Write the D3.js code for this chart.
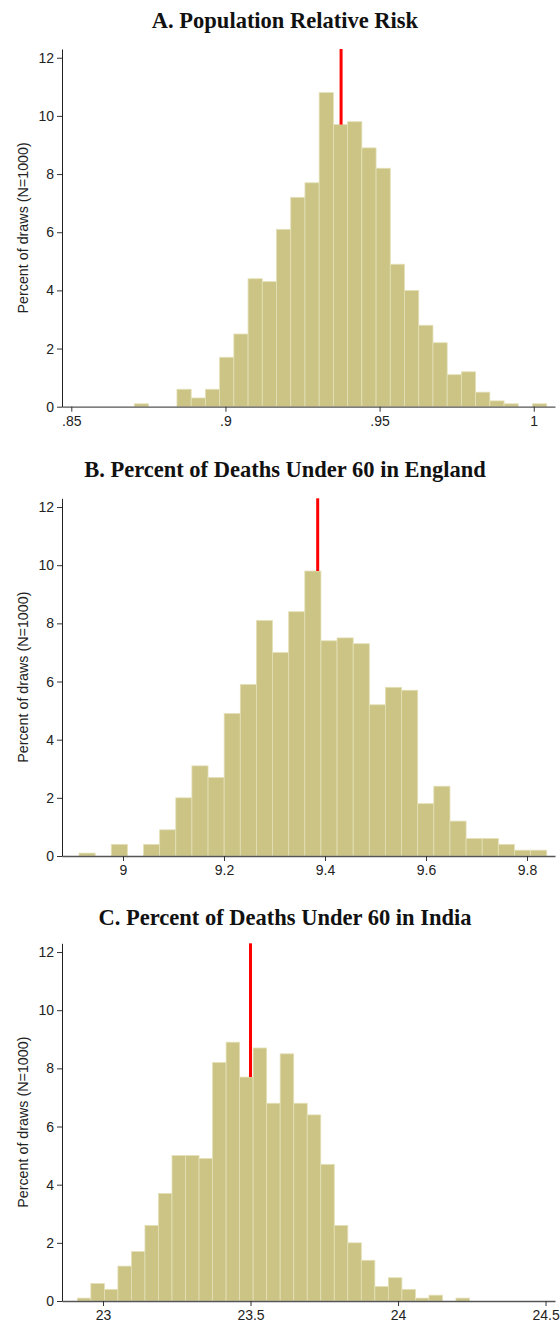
<!DOCTYPE html>
<html>
<head>
<meta charset="utf-8">
<script src="https://cdn.jsdelivr.net/npm/d3@7"></script>
<style>
  body { margin: 0; background: #fff; }
  svg { display: block; }
  .tick text { font-family: "Liberation Sans", Arial, sans-serif; font-size: 14px; fill: #222; }
  .title { font-family: "Liberation Serif", "Times New Roman", serif; font-weight: bold; font-size: 22.5px; fill: #111; }
  .ylab { font-family: "Liberation Sans", Arial, sans-serif; font-size: 14.3px; fill: #222; }
</style>
</head>
<body>
<script>
// titles
var titles = [
    "A. Population Relative Risk",
    "B. Percent of Deaths Under 60 in England",
    "C. Percent of Deaths Under 60 in India"
];

// percent of draws per bin (29 equal bins each)
var percentA = [0.1, 0, 0, 0.6, 0.3, 0.6, 1.7, 2.5, 4.4, 4.3, 6.1, 7.2, 7.7, 10.8, 9.7,
                9.8, 8.9, 8.2, 4.9, 4.0, 2.8, 2.2, 1.1, 1.2, 0.5, 0.2, 0.1, 0, 0.1];
var percentB = [0.1, 0, 0.4, 0, 0.4, 0.9, 2.0, 3.1, 2.7, 4.9, 5.9, 8.1, 7.0, 8.4, 9.8,
                7.4, 7.5, 7.3, 5.2, 5.8, 5.7, 1.8, 2.4, 1.2, 0.6, 0.6, 0.4, 0.2, 0.2];
var percentC = [0.1, 0.6, 0.4, 1.2, 1.7, 2.6, 3.7, 5.0, 5.0, 4.9, 8.2, 8.9, 7.7, 8.7, 6.8,
                8.5, 6.8, 6.4, 4.7, 2.6, 2.0, 1.4, 0.5, 0.8, 0.4, 0.1, 0.2, 0, 0.1];

// bin start and width
var binStart = [0.87043, 8.9129, 22.913];
var binWidth = [0.004613, 0.031935, 0.045835];

// point estimate (red line)
var markers = [0.9375, 9.3855, 23.5];

// axes
var xDomains = [[0.84698, 1.00689], [8.8792, 9.8554], [22.861, 24.532]];
var xTicks   = [[0.85, 0.9, 0.95, 1], [9, 9.2, 9.4, 9.6, 9.8], [23, 23.5, 24, 24.5]];
var xFormats = [d => d3.format(".2~f")(d).replace(/^0\./, "."), d3.format(".1~f"), d3.format(".1~f")];
var yTicks   = [0, 2, 4, 6, 8, 10, 12];
var yMax     = 12.3;
var yLabel   = "Percent of draws (N=1000)";

// layout
var width   = 560;
var height  = 1325;
var left    = 62;
var right   = 555;
var zeroY   = [406.7, 856, 1301];
var titleY  = [28, 477, 925];
var unitPx  = 29.08;

var svg = d3.select("body").append("svg")
    .attr("width", width)
    .attr("height", height);

var series = [percentA, percentB, percentC];

series.forEach((vals, p) => {
    var g = svg.append("g");

    var x = d3.scaleLinear().domain(xDomains[p]).range([left, right]);
    var y = d3.scaleLinear().domain([0, yMax]).range([zeroY[p], zeroY[p] - yMax * unitPx]);

    var bins = vals.map((v, i) => ({
        x0: binStart[p] + i * binWidth[p],
        x1: binStart[p] + (i + 1) * binWidth[p],
        v: v
    }));

    g.append("g")
     .selectAll("rect")
     .data(bins.filter(d => d.v > 0))
     .enter().append("rect")
     .attr("x", d => x(d.x0))
     .attr("width", d => x(d.x1) - x(d.x0))
     .attr("y", d => y(d.v))
     .attr("height", d => y(0) - y(d.v))
     .attr("fill", "#cbc484")
     .attr("stroke", "#e4e0b8")
     .attr("stroke-width", 0.8);

    // red line from top of plot down to the bar it sits in
    var idx = Math.floor((markers[p] - binStart[p]) / binWidth[p]);
    g.append("line")
     .attr("x1", x(markers[p]))
     .attr("x2", x(markers[p]))
     .attr("y1", y(yMax))
     .attr("y2", y(vals[idx]))
     .attr("stroke", "#ff0000")
     .attr("stroke-width", 3);

    var xa = g.append("g")
        .attr("transform", "translate(0," + y(0) + ")")
        .call(d3.axisBottom(x).tickValues(xTicks[p]).tickFormat(xFormats[p])
                .tickSize(5).tickPadding(4).tickSizeOuter(0));
    xa.select(".domain").attr("stroke", "#555").attr("stroke-width", 1.3);
    xa.selectAll(".tick line").attr("stroke", "#333");

    var ya = g.append("g")
        .attr("transform", "translate(" + left + ",0)")
        .call(d3.axisLeft(y).tickValues(yTicks).tickSize(5).tickPadding(3).tickSizeOuter(0));
    ya.select(".domain").attr("stroke", "#222");
    ya.selectAll(".tick line").attr("stroke", "#333");

    g.append("text")
     .attr("class", "ylab")
     .attr("transform", "translate(28," + (y(0) + y(yMax)) / 2 + ") rotate(-90)")
     .attr("text-anchor", "middle")
     .text(yLabel);

    g.append("text")
     .attr("class", "title")
     .attr("x", 285)
     .attr("y", titleY[p])
     .attr("text-anchor", "middle")
     .text(titles[p]);
});
</script>
</body>
</html>
